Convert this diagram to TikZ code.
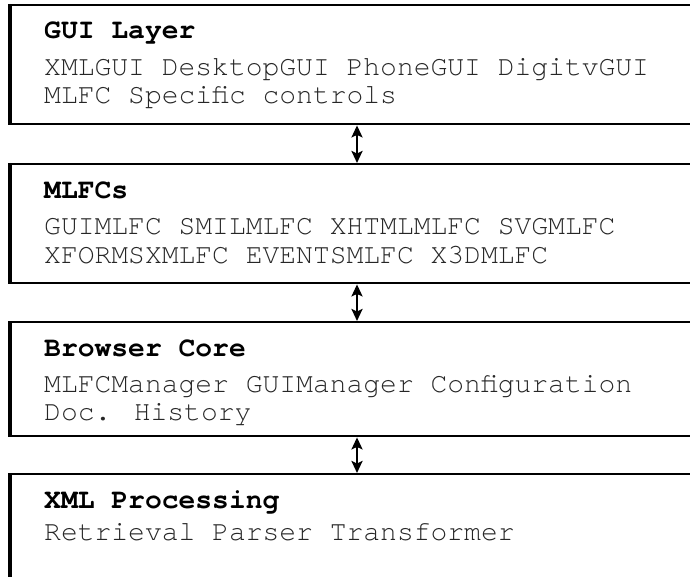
\documentclass[tikz,border=0pt]{standalone}
\usepackage{fontspec}
\newfontfamily\curfont{TeX Gyre Cursor}
\usetikzlibrary{arrows.meta}
\tikzset{
  layerbox/.style={draw=black, line width=2.4pt, fill=white, minimum width=760pt, anchor=north west, inner sep=0pt},
  titletext/.style={anchor=base west, inner sep=0pt, font=\curfont\bfseries\fontsize{28}{28}\selectfont, text=black},
  bodytext/.style={anchor=base west, inner sep=0pt, font=\curfont\fontsize{28}{28}\selectfont, text=black!85},
  linkarrow/.style={{Stealth[length=12pt,width=11pt,inset=2.5pt]}-{Stealth[length=12pt,width=11pt,inset=2.5pt]}, line width=2.6pt}
}
\begin{document}
\begin{tikzpicture}[x=1pt,y=-1pt]
\useasboundingbox (0,0) rectangle (690,577);
\clip (0,0) rectangle (690,577);
\fill[white] (0,0) rectangle (690,577);
% boxes
\node[layerbox, minimum height=119pt] (b1) at (9.5,4) {};
\node[layerbox, minimum height=119pt] (b2) at (9.5,163) {};
\node[layerbox, minimum height=114pt] (b3) at (9.5,321) {};
\node[layerbox, minimum height=140pt] (b4) at (9.5,473) {};
% thicker left edges
\draw[line width=3.2pt] (b1.north west) -- (b1.south west);
\draw[line width=3.2pt] (b2.north west) -- (b2.south west);
\draw[line width=3.2pt] (b3.north west) -- (b3.south west);
\draw[line width=3.2pt] (b4.north west) -- (b4.south west);
% texts
\node[titletext] (t1) at (44,39) {GUI Layer};
\node[bodytext] (l1a) at (44,76) {XMLGUI DesktopGUI PhoneGUI DigitvGUI};
\node[bodytext] (l1b) at (44,104) {MLFC Specific controls};
\node[titletext] (t2) at (44,199) {MLFCs};
\node[bodytext] (l2a) at (44,235) {GUIMLFC SMILMLFC XHTMLMLFC SVGMLFC};
\node[bodytext] (l2b) at (44,263) {XFORMSXMLFC EVENTSMLFC X3DMLFC};
\node[titletext] (t3) at (44,356) {Browser Core};
\node[bodytext] (l3a) at (44,392) {MLFCManager GUIManager Configuration};
\node[bodytext] (l3b) at (44,420) {Doc. History};
\node[titletext] (t4) at (44,508) {XML Processing};
\node[bodytext] (l4a) at (44,540) {Retrieval Parser Transformer};
% arrows
\coordinate (ax) at (357,0);
\draw[linkarrow] (b1.south -| ax) -- (b2.north -| ax);
\draw[linkarrow] (b2.south -| ax) -- (b3.north -| ax);
\draw[linkarrow] (b3.south -| ax) -- (b4.north -| ax);
\end{tikzpicture}
\end{document}
